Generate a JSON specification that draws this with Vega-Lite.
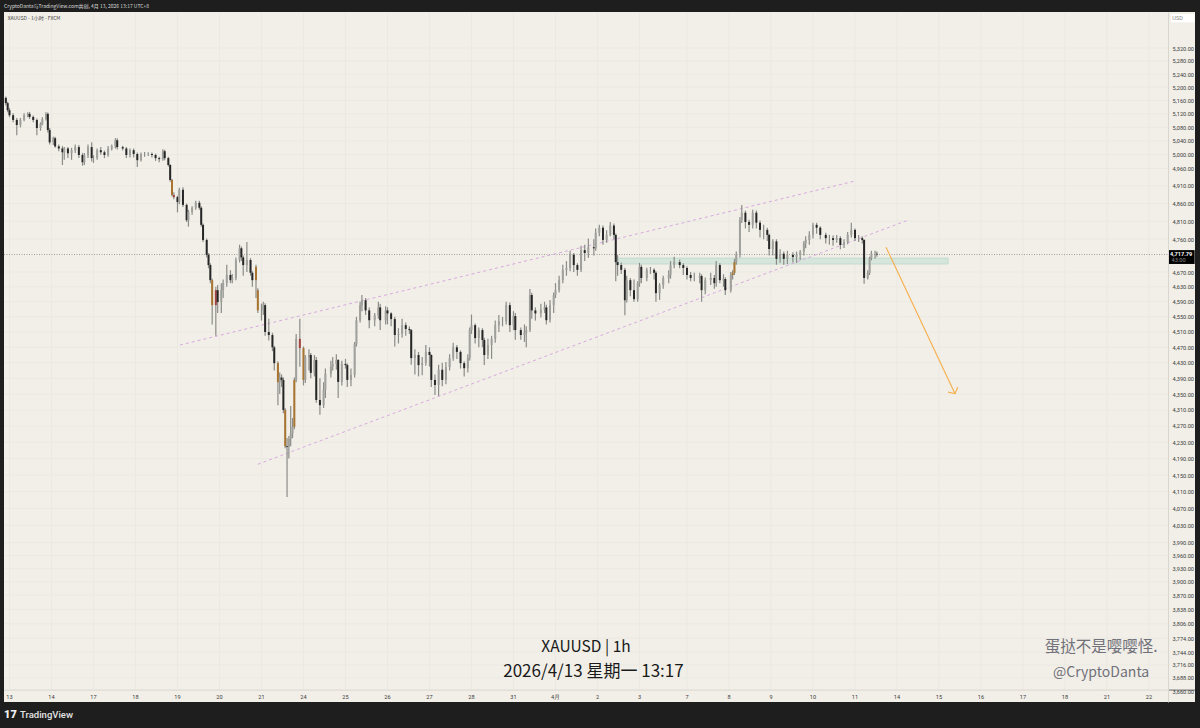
{
  "$schema": "https://vega.github.io/schema/vega-lite/v6.json",
  "width": 1191,
  "height": 690,
  "autosize": "none",
  "padding": {"left": 4, "top": 12, "right": 5, "bottom": 26},
  "background": "#1e1e1e",
  "view": {"fill": "#f1efe8", "stroke": null},
  "config": {
    "axisX": {"disable": true},
    "font": "Noto Sans CJK SC"
  },
  "datasets": {
    "days": [
      {"b":3,"day":"13"},{"b":26,"day":"14"},{"b":49,"day":"17"},{"b":72,"day":"18"},{"b":95,"day":"19"},{"b":118,"day":"20"},{"b":141,"day":"21"},{"b":164,"day":"24"},{"b":187,"day":"25"},{"b":210,"day":"26"},{"b":233,"day":"27"},{"b":256,"day":"28"},{"b":279,"day":"31"},{"b":302,"day":"4月"},{"b":325,"day":"2"},{"b":348,"day":"3"},{"b":374,"day":"7"},{"b":397,"day":"8"},{"b":420,"day":"9"},{"b":443,"day":"10"},{"b":466,"day":"11"},{"b":489,"day":"14"},{"b":512,"day":"15"},{"b":535,"day":"16"},{"b":558,"day":"17"},{"b":581,"day":"18"},{"b":604,"day":"21"},{"b":627,"day":"22"}
    ],
    "levels": [
      {"p":5320},{"p":5280},{"p":5240},{"p":5200},{"p":5160},{"p":5120},{"p":5080},{"p":5040},{"p":5000},{"p":4960},{"p":4910},{"p":4860},{"p":4810},{"p":4760},{"p":4670},{"p":4630},{"p":4590},{"p":4550},{"p":4510},{"p":4470},{"p":4430},{"p":4390},{"p":4350},{"p":4310},{"p":4270},{"p":4230},{"p":4190},{"p":4150},{"p":4110},{"p":4070},{"p":4030},{"p":3990},{"p":3960},{"p":3930},{"p":3900},{"p":3870},{"p":3838},{"p":3806},{"p":3774},{"p":3744},{"p":3716},{"p":3688}
    ],
    "candles": [
      {"b":1,"o":5168,"h":5172,"l":5145,"c":5152},
      {"b":2,"o":5152,"h":5156,"l":5125,"c":5131},
      {"b":3,"o":5131,"h":5138,"l":5110,"c":5116},
      {"b":5,"o":5116,"h":5122,"l":5095,"c":5102},
      {"b":7,"o":5102,"h":5108,"l":5057,"c":5087},
      {"b":9,"o":5087,"h":5108,"l":5080,"c":5102},
      {"b":11,"o":5102,"h":5122,"l":5098,"c":5116},
      {"b":13,"o":5116,"h":5125,"l":5110,"c":5120},
      {"b":14,"o":5120,"h":5126,"l":5105,"c":5111},
      {"b":16,"o":5111,"h":5115,"l":5095,"c":5102},
      {"b":18,"o":5102,"h":5106,"l":5057,"c":5078},
      {"b":20,"o":5078,"h":5095,"l":5070,"c":5090},
      {"b":21,"o":5090,"h":5110,"l":5086,"c":5105},
      {"b":23,"o":5105,"h":5125,"l":5100,"c":5120},
      {"b":24,"o":5120,"h":5124,"l":5065,"c":5072},
      {"b":25,"o":5072,"h":5078,"l":5030,"c":5036},
      {"b":27,"o":5036,"h":5052,"l":5028,"c":5048},
      {"b":28,"o":5048,"h":5052,"l":5020,"c":5024},
      {"b":30,"o":5024,"h":5030,"l":5010,"c":5018},
      {"b":32,"o":5018,"h":5025,"l":4970,"c":5007},
      {"b":33,"o":5007,"h":5022,"l":4985,"c":5018},
      {"b":35,"o":5018,"h":5022,"l":4990,"c":5004},
      {"b":37,"o":5004,"h":5020,"l":4985,"c":5013},
      {"b":39,"o":5013,"h":5030,"l":5005,"c":5022},
      {"b":41,"o":5022,"h":5028,"l":4990,"c":4999},
      {"b":43,"o":4999,"h":5005,"l":4968,"c":4978},
      {"b":44,"o":4978,"h":5005,"l":4970,"c":4999},
      {"b":46,"o":4999,"h":5030,"l":4990,"c":5022},
      {"b":48,"o":5022,"h":5036,"l":4980,"c":4990},
      {"b":49,"o":4990,"h":4998,"l":4976,"c":4990},
      {"b":51,"o":4990,"h":5018,"l":4985,"c":5013},
      {"b":53,"o":5013,"h":5022,"l":5000,"c":5007},
      {"b":55,"o":5007,"h":5012,"l":4990,"c":4999},
      {"b":57,"o":4999,"h":5025,"l":4994,"c":5018},
      {"b":59,"o":5018,"h":5030,"l":5012,"c":5024},
      {"b":61,"o":5024,"h":5048,"l":5018,"c":5042},
      {"b":62,"o":5042,"h":5048,"l":5015,"c":5022},
      {"b":65,"o":5022,"h":5026,"l":5012,"c":5018},
      {"b":67,"o":5018,"h":5022,"l":4990,"c":4999},
      {"b":69,"o":4999,"h":5018,"l":4992,"c":5013},
      {"b":71,"o":5013,"h":5018,"l":4992,"c":5002},
      {"b":73,"o":5002,"h":5006,"l":4964,"c":4984},
      {"b":75,"o":4984,"h":5006,"l":4980,"c":5002},
      {"b":77,"o":5002,"h":5008,"l":4994,"c":5002},
      {"b":79,"o":5002,"h":5007,"l":4996,"c":5002},
      {"b":81,"o":5002,"h":5006,"l":4992,"c":4999},
      {"b":83,"o":4999,"h":5003,"l":4982,"c":4990},
      {"b":85,"o":4990,"h":4994,"l":4978,"c":4987},
      {"b":87,"o":4987,"h":5016,"l":4982,"c":5010},
      {"b":88,"o":5010,"h":5014,"l":4984,"c":4990},
      {"b":90,"o":4990,"h":4994,"l":4966,"c":4970},
      {"b":91,"o":4970,"h":4972,"l":4922,"c":4927},
      {"b":92,"o":4927,"h":4930,"l":4880,"c":4884,"s":"o"},
      {"b":93,"o":4884,"h":4892,"l":4872,"c":4878,"s":"r"},
      {"b":95,"o":4878,"h":4882,"l":4835,"c":4864},
      {"b":96,"o":4864,"h":4905,"l":4858,"c":4899},
      {"b":98,"o":4899,"h":4906,"l":4850,"c":4856},
      {"b":100,"o":4856,"h":4860,"l":4808,"c":4813},
      {"b":101,"o":4813,"h":4842,"l":4795,"c":4836},
      {"b":103,"o":4836,"h":4852,"l":4828,"c":4848},
      {"b":105,"o":4848,"h":4868,"l":4842,"c":4862},
      {"b":107,"o":4862,"h":4868,"l":4842,"c":4848},
      {"b":108,"o":4848,"h":4852,"l":4795,"c":4800},
      {"b":109,"o":4800,"h":4804,"l":4752,"c":4758},
      {"b":111,"o":4758,"h":4762,"l":4710,"c":4717},
      {"b":112,"o":4717,"h":4722,"l":4680,"c":4689},
      {"b":113,"o":4689,"h":4694,"l":4640,"c":4648},
      {"b":114,"o":4648,"h":4652,"l":4530,"c":4581,"s":"o"},
      {"b":116,"o":4581,"h":4630,"l":4500,"c":4621,"s":"r"},
      {"b":117,"o":4621,"h":4635,"l":4560,"c":4589},
      {"b":119,"o":4589,"h":4640,"l":4560,"c":4621},
      {"b":120,"o":4621,"h":4650,"l":4600,"c":4640},
      {"b":122,"o":4640,"h":4690,"l":4630,"c":4662},
      {"b":124,"o":4662,"h":4675,"l":4640,"c":4648},
      {"b":125,"o":4648,"h":4665,"l":4640,"c":4654},
      {"b":127,"o":4654,"h":4710,"l":4648,"c":4703},
      {"b":129,"o":4703,"h":4745,"l":4696,"c":4735},
      {"b":130,"o":4735,"h":4740,"l":4700,"c":4710},
      {"b":131,"o":4710,"h":4715,"l":4660,"c":4689},
      {"b":133,"o":4689,"h":4752,"l":4670,"c":4703},
      {"b":135,"o":4703,"h":4708,"l":4660,"c":4668},
      {"b":136,"o":4668,"h":4672,"l":4630,"c":4648},
      {"b":138,"o":4648,"h":4690,"l":4600,"c":4684,"s":"o"},
      {"b":139,"o":4621,"h":4626,"l":4560,"c":4567,"s":"o"},
      {"b":141,"o":4567,"h":4585,"l":4540,"c":4567},
      {"b":142,"o":4567,"h":4590,"l":4555,"c":4581},
      {"b":143,"o":4581,"h":4586,"l":4500,"c":4510},
      {"b":145,"o":4510,"h":4545,"l":4488,"c":4502},
      {"b":147,"o":4502,"h":4508,"l":4460,"c":4470},
      {"b":148,"o":4470,"h":4474,"l":4410,"c":4429},
      {"b":150,"o":4429,"h":4434,"l":4322,"c":4380,"s":"o"},
      {"b":151,"o":4380,"h":4405,"l":4350,"c":4392},
      {"b":152,"o":4392,"h":4400,"l":4368,"c":4386},
      {"b":153,"o":4386,"h":4392,"l":4302,"c":4310},
      {"b":154,"o":4310,"h":4314,"l":4215,"c":4220,"s":"o"},
      {"b":155,"o":4220,"h":4240,"l":4097,"c":4218},
      {"b":156,"o":4218,"h":4245,"l":4190,"c":4238},
      {"b":157,"o":4238,"h":4320,"l":4220,"c":4252},
      {"b":158,"o":4252,"h":4290,"l":4240,"c":4268},
      {"b":159,"o":4268,"h":4392,"l":4262,"c":4386,"s":"o"},
      {"b":160,"o":4386,"h":4505,"l":4380,"c":4492},
      {"b":162,"o":4492,"h":4545,"l":4420,"c":4468,"s":"r"},
      {"b":164,"o":4468,"h":4472,"l":4372,"c":4386,"s":"o"},
      {"b":165,"o":4386,"h":4450,"l":4378,"c":4444},
      {"b":167,"o":4444,"h":4465,"l":4410,"c":4450},
      {"b":168,"o":4450,"h":4455,"l":4390,"c":4404},
      {"b":170,"o":4404,"h":4450,"l":4395,"c":4437},
      {"b":171,"o":4437,"h":4445,"l":4328,"c":4335},
      {"b":173,"o":4335,"h":4390,"l":4298,"c":4322},
      {"b":175,"o":4322,"h":4380,"l":4315,"c":4361},
      {"b":176,"o":4361,"h":4415,"l":4340,"c":4402},
      {"b":179,"o":4402,"h":4435,"l":4392,"c":4420},
      {"b":180,"o":4420,"h":4445,"l":4410,"c":4427},
      {"b":182,"o":4427,"h":4452,"l":4412,"c":4437},
      {"b":183,"o":4437,"h":4440,"l":4340,"c":4381},
      {"b":185,"o":4381,"h":4435,"l":4372,"c":4427},
      {"b":187,"o":4427,"h":4440,"l":4415,"c":4424},
      {"b":188,"o":4424,"h":4428,"l":4368,"c":4386},
      {"b":190,"o":4386,"h":4415,"l":4370,"c":4399},
      {"b":192,"o":4399,"h":4484,"l":4392,"c":4479},
      {"b":193,"o":4479,"h":4550,"l":4472,"c":4541},
      {"b":195,"o":4541,"h":4590,"l":4535,"c":4581},
      {"b":196,"o":4581,"h":4608,"l":4565,"c":4594},
      {"b":198,"o":4594,"h":4600,"l":4555,"c":4567},
      {"b":200,"o":4567,"h":4575,"l":4520,"c":4541},
      {"b":203,"o":4541,"h":4560,"l":4525,"c":4554},
      {"b":205,"o":4554,"h":4590,"l":4545,"c":4575},
      {"b":206,"o":4575,"h":4585,"l":4515,"c":4541},
      {"b":209,"o":4541,"h":4578,"l":4530,"c":4567},
      {"b":210,"o":4567,"h":4575,"l":4530,"c":4559},
      {"b":212,"o":4559,"h":4562,"l":4525,"c":4544},
      {"b":214,"o":4544,"h":4550,"l":4472,"c":4502},
      {"b":216,"o":4502,"h":4520,"l":4480,"c":4505},
      {"b":218,"o":4505,"h":4545,"l":4495,"c":4528},
      {"b":220,"o":4528,"h":4535,"l":4500,"c":4518},
      {"b":222,"o":4518,"h":4525,"l":4505,"c":4515},
      {"b":223,"o":4515,"h":4518,"l":4425,"c":4442},
      {"b":225,"o":4442,"h":4465,"l":4400,"c":4450},
      {"b":227,"o":4450,"h":4458,"l":4395,"c":4424},
      {"b":229,"o":4424,"h":4445,"l":4398,"c":4429},
      {"b":231,"o":4429,"h":4476,"l":4422,"c":4458},
      {"b":233,"o":4458,"h":4470,"l":4420,"c":4450},
      {"b":234,"o":4450,"h":4452,"l":4368,"c":4386},
      {"b":236,"o":4386,"h":4400,"l":4348,"c":4373},
      {"b":238,"o":4373,"h":4425,"l":4345,"c":4412},
      {"b":240,"o":4412,"h":4430,"l":4370,"c":4386},
      {"b":242,"o":4386,"h":4432,"l":4375,"c":4419},
      {"b":244,"o":4419,"h":4452,"l":4410,"c":4442},
      {"b":246,"o":4442,"h":4482,"l":4435,"c":4470},
      {"b":248,"o":4470,"h":4476,"l":4440,"c":4458},
      {"b":250,"o":4458,"h":4462,"l":4415,"c":4429},
      {"b":252,"o":4429,"h":4434,"l":4395,"c":4416},
      {"b":254,"o":4416,"h":4452,"l":4405,"c":4442},
      {"b":255,"o":4442,"h":4522,"l":4436,"c":4515},
      {"b":256,"o":4515,"h":4556,"l":4505,"c":4528},
      {"b":258,"o":4528,"h":4532,"l":4480,"c":4494},
      {"b":260,"o":4494,"h":4522,"l":4470,"c":4515},
      {"b":262,"o":4515,"h":4520,"l":4470,"c":4489},
      {"b":263,"o":4489,"h":4495,"l":4424,"c":4450},
      {"b":265,"o":4450,"h":4492,"l":4440,"c":4476},
      {"b":267,"o":4476,"h":4500,"l":4440,"c":4492},
      {"b":269,"o":4492,"h":4540,"l":4482,"c":4528},
      {"b":271,"o":4528,"h":4555,"l":4510,"c":4538},
      {"b":273,"o":4538,"h":4550,"l":4525,"c":4538},
      {"b":275,"o":4538,"h":4590,"l":4530,"c":4581},
      {"b":277,"o":4581,"h":4588,"l":4510,"c":4528},
      {"b":279,"o":4528,"h":4565,"l":4515,"c":4552},
      {"b":280,"o":4552,"h":4560,"l":4490,"c":4515},
      {"b":283,"o":4515,"h":4522,"l":4490,"c":4502},
      {"b":285,"o":4502,"h":4530,"l":4484,"c":4508},
      {"b":286,"o":4508,"h":4525,"l":4470,"c":4515},
      {"b":288,"o":4515,"h":4624,"l":4510,"c":4608},
      {"b":289,"o":4608,"h":4614,"l":4545,"c":4567},
      {"b":291,"o":4567,"h":4575,"l":4540,"c":4559},
      {"b":294,"o":4559,"h":4585,"l":4548,"c":4570},
      {"b":296,"o":4570,"h":4590,"l":4560,"c":4575},
      {"b":297,"o":4575,"h":4582,"l":4530,"c":4541},
      {"b":299,"o":4541,"h":4595,"l":4535,"c":4581},
      {"b":301,"o":4581,"h":4615,"l":4560,"c":4608},
      {"b":302,"o":4608,"h":4640,"l":4600,"c":4621},
      {"b":304,"o":4621,"h":4660,"l":4615,"c":4648},
      {"b":306,"o":4648,"h":4690,"l":4640,"c":4676},
      {"b":308,"o":4676,"h":4700,"l":4660,"c":4681},
      {"b":310,"o":4681,"h":4728,"l":4672,"c":4717},
      {"b":312,"o":4717,"h":4722,"l":4670,"c":4689},
      {"b":314,"o":4689,"h":4694,"l":4660,"c":4676},
      {"b":316,"o":4676,"h":4742,"l":4670,"c":4730},
      {"b":318,"o":4730,"h":4745,"l":4700,"c":4722},
      {"b":320,"o":4722,"h":4762,"l":4708,"c":4738},
      {"b":323,"o":4738,"h":4760,"l":4715,"c":4735},
      {"b":324,"o":4735,"h":4790,"l":4728,"c":4778},
      {"b":326,"o":4778,"h":4800,"l":4768,"c":4792},
      {"b":328,"o":4792,"h":4798,"l":4745,"c":4758},
      {"b":330,"o":4758,"h":4785,"l":4750,"c":4772},
      {"b":332,"o":4772,"h":4808,"l":4768,"c":4798},
      {"b":334,"o":4798,"h":4804,"l":4760,"c":4772},
      {"b":335,"o":4772,"h":4776,"l":4645,"c":4697},
      {"b":336,"o":4697,"h":4716,"l":4660,"c":4689},
      {"b":338,"o":4689,"h":4696,"l":4665,"c":4676},
      {"b":340,"o":4676,"h":4682,"l":4554,"c":4594},
      {"b":341,"o":4594,"h":4660,"l":4588,"c":4648},
      {"b":343,"o":4648,"h":4654,"l":4605,"c":4621},
      {"b":345,"o":4621,"h":4650,"l":4590,"c":4597},
      {"b":347,"o":4597,"h":4645,"l":4590,"c":4640},
      {"b":348,"o":4640,"h":4695,"l":4630,"c":4684},
      {"b":349,"o":4684,"h":4690,"l":4640,"c":4654},
      {"b":352,"o":4654,"h":4682,"l":4645,"c":4676},
      {"b":354,"o":4676,"h":4684,"l":4665,"c":4676},
      {"b":356,"o":4676,"h":4680,"l":4650,"c":4668},
      {"b":357,"o":4668,"h":4672,"l":4590,"c":4613},
      {"b":359,"o":4613,"h":4640,"l":4595,"c":4635},
      {"b":361,"o":4635,"h":4660,"l":4625,"c":4654},
      {"b":364,"o":4654,"h":4675,"l":4640,"c":4662},
      {"b":365,"o":4662,"h":4700,"l":4652,"c":4689},
      {"b":367,"o":4689,"h":4712,"l":4680,"c":4697},
      {"b":370,"o":4697,"h":4704,"l":4680,"c":4689},
      {"b":372,"o":4689,"h":4694,"l":4662,"c":4681},
      {"b":374,"o":4681,"h":4686,"l":4650,"c":4662},
      {"b":376,"o":4662,"h":4670,"l":4645,"c":4654},
      {"b":378,"o":4654,"h":4668,"l":4645,"c":4654},
      {"b":381,"o":4654,"h":4668,"l":4640,"c":4659},
      {"b":382,"o":4659,"h":4664,"l":4590,"c":4621},
      {"b":384,"o":4621,"h":4655,"l":4610,"c":4648},
      {"b":387,"o":4648,"h":4668,"l":4635,"c":4654},
      {"b":389,"o":4654,"h":4662,"l":4625,"c":4640},
      {"b":390,"o":4640,"h":4700,"l":4630,"c":4689},
      {"b":392,"o":4689,"h":4694,"l":4640,"c":4648},
      {"b":394,"o":4648,"h":4664,"l":4630,"c":4651},
      {"b":395,"o":4651,"h":4656,"l":4608,"c":4621},
      {"b":398,"o":4621,"h":4670,"l":4615,"c":4662},
      {"b":399,"o":4662,"h":4675,"l":4650,"c":4668,"s":"o"},
      {"b":400,"o":4668,"h":4706,"l":4662,"c":4697,"s":"o"},
      {"b":401,"o":4697,"h":4726,"l":4690,"c":4717},
      {"b":403,"o":4717,"h":4822,"l":4710,"c":4813},
      {"b":404,"o":4813,"h":4856,"l":4805,"c":4834},
      {"b":406,"o":4834,"h":4840,"l":4790,"c":4808},
      {"b":408,"o":4808,"h":4814,"l":4780,"c":4800},
      {"b":410,"o":4800,"h":4842,"l":4790,"c":4834},
      {"b":412,"o":4834,"h":4840,"l":4790,"c":4806},
      {"b":414,"o":4806,"h":4812,"l":4765,"c":4786},
      {"b":416,"o":4786,"h":4800,"l":4760,"c":4786},
      {"b":418,"o":4786,"h":4792,"l":4755,"c":4772},
      {"b":419,"o":4772,"h":4775,"l":4715,"c":4733},
      {"b":421,"o":4733,"h":4760,"l":4715,"c":4754},
      {"b":423,"o":4754,"h":4760,"l":4690,"c":4706},
      {"b":425,"o":4706,"h":4732,"l":4695,"c":4720},
      {"b":427,"o":4720,"h":4726,"l":4690,"c":4706},
      {"b":429,"o":4706,"h":4728,"l":4692,"c":4717},
      {"b":432,"o":4717,"h":4724,"l":4696,"c":4711},
      {"b":434,"o":4711,"h":4726,"l":4695,"c":4717},
      {"b":436,"o":4717,"h":4730,"l":4702,"c":4725},
      {"b":438,"o":4725,"h":4755,"l":4715,"c":4749},
      {"b":439,"o":4749,"h":4768,"l":4735,"c":4758},
      {"b":441,"o":4758,"h":4782,"l":4745,"c":4772},
      {"b":443,"o":4772,"h":4806,"l":4762,"c":4800},
      {"b":445,"o":4800,"h":4806,"l":4775,"c":4792},
      {"b":447,"o":4792,"h":4796,"l":4760,"c":4772},
      {"b":450,"o":4772,"h":4778,"l":4748,"c":4763},
      {"b":452,"o":4763,"h":4772,"l":4745,"c":4763},
      {"b":454,"o":4763,"h":4770,"l":4742,"c":4758},
      {"b":456,"o":4758,"h":4772,"l":4750,"c":4763},
      {"b":458,"o":4763,"h":4768,"l":4732,"c":4744},
      {"b":460,"o":4744,"h":4760,"l":4736,"c":4752},
      {"b":462,"o":4752,"h":4780,"l":4746,"c":4772},
      {"b":464,"o":4772,"h":4806,"l":4765,"c":4786},
      {"b":466,"o":4786,"h":4790,"l":4755,"c":4763},
      {"b":468,"o":4763,"h":4772,"l":4752,"c":4763},
      {"b":470,"o":4763,"h":4768,"l":4748,"c":4758},
      {"b":471,"o":4758,"h":4760,"l":4638,"c":4654},
      {"b":473,"o":4654,"h":4675,"l":4650,"c":4668},
      {"b":474,"o":4668,"h":4712,"l":4662,"c":4708},
      {"b":475,"o":4708,"h":4728,"l":4702,"c":4720},
      {"b":477,"o":4720,"h":4728,"l":4706,"c":4720},
      {"b":478,"o":4720,"h":4726,"l":4712,"c":4718}
    ]
  },
  "layer": [
    {
      "data": {"name": "days"},
      "mark": {"type": "rule", "color": "#ebe9e2", "strokeWidth": 1},
      "encoding": {
        "x": {"field": "b", "type": "quantitative", "scale": {"domain": [0, 652.2], "nice": false, "zero": false, "padding": 0}}
      }
    },
    {
      "data": {"name": "levels"},
      "mark": {"type": "rule", "color": "#ebe9e2", "strokeWidth": 1},
      "encoding": {
        "x": {"datum": 0, "type": "quantitative"},
        "x2": {"datum": 637.5},
        "y": {
          "field": "p",
          "type": "quantitative",
          "scale": {"type": "log", "domain": [3636.7, 5432.6], "nice": false},
          "axis": {
            "orient": "right",
            "offset": -27,
            "title": null,
            "values": [5320,5280,5240,5200,5160,5120,5080,5040,5000,4960,4910,4860,4810,4760,4670,4630,4590,4550,4510,4470,4430,4390,4350,4310,4270,4230,4190,4150,4110,4070,4030,3990,3960,3930,3900,3870,3838,3806,3774,3744,3716,3688,3660],
            "format": ",.2f",
            "ticks": false,
            "grid": false,
            "domainColor": "#d8d6ce",
            "labelFont": "Roboto",
            "labelFontSize": 5.6,
            "labelColor": "#3c3c3c",
            "labelPadding": 4,
            "labelOverlap": false,
            "zindex": 1
          }
        }
      }
    },
    {
      "data": {"values": [
        {"x0": 637.5, "x1": 652.2, "p0": 3636.7, "p1": 5432.6},
        {"x0": 0, "x1": 652.2, "p0": 3636.7, "p1": 3662}
      ]},
      "mark": {"type": "rect", "fill": "#f1efe8"},
      "encoding": {
        "x": {"field": "x0", "type": "quantitative"},
        "x2": {"field": "x1"},
        "y": {"field": "p0", "type": "quantitative"},
        "y2": {"field": "p1"}
      }
    },
    {
      "data": {"values": [{"x0": 0, "x1": 637.5, "p": 3662}]},
      "mark": {"type": "rule", "color": "#d8d6ce", "strokeWidth": 1},
      "encoding": {
        "x": {"field": "x0", "type": "quantitative"},
        "x2": {"field": "x1"},
        "y": {"field": "p", "type": "quantitative"}
      }
    },
    {
      "data": {"values": [{"x0": 637.5, "x1": 652.2, "p": 3662}]},
      "mark": {"type": "rule", "color": "#6b6b6b", "strokeWidth": 1},
      "encoding": {
        "x": {"field": "x0", "type": "quantitative"},
        "x2": {"field": "x1"},
        "y": {"field": "p", "type": "quantitative"}
      }
    },
    {
      "data": {"name": "days"},
      "mark": {"type": "text", "font": "Roboto", "fontSize": 5.6, "color": "#3c3c3c"},
      "encoding": {
        "x": {"field": "b", "type": "quantitative"},
        "y": {"datum": 3647, "type": "quantitative"},
        "text": {"field": "day"}
      }
    },
    {
      "data": {"values": [{"x0": 335, "x1": 517, "p0": 4692, "p1": 4708}]},
      "mark": {"type": "rect", "fill": "#d6e6dd", "stroke": "#c3dbce", "strokeWidth": 1},
      "encoding": {
        "x": {"field": "x0", "type": "quantitative"},
        "x2": {"field": "x1"},
        "y": {"field": "p0", "type": "quantitative"},
        "y2": {"field": "p1"}
      }
    },
    {
      "data": {"values": [{"x0": 0, "x1": 637.5, "p": 4717.79}]},
      "mark": {"type": "rule", "color": "#8f8c86", "strokeWidth": 0.8, "strokeDash": [1, 1.5]},
      "encoding": {
        "x": {"field": "x0", "type": "quantitative"},
        "x2": {"field": "x1"},
        "y": {"field": "p", "type": "quantitative"}
      }
    },
    {
      "data": {"values": [
        {"line": "upper", "b": 96.4, "p": 4476},
        {"line": "upper", "b": 466, "p": 4924},
        {"line": "lower", "b": 139, "p": 4176},
        {"line": "lower", "b": 495, "p": 4813}
      ]},
      "mark": {"type": "line", "color": "#d9a9e0", "strokeWidth": 1, "strokeDash": [3, 3]},
      "encoding": {
        "x": {"field": "b", "type": "quantitative"},
        "y": {"field": "p", "type": "quantitative"},
        "detail": {"field": "line"}
      }
    },
    {
      "data": {"values": [
        {"seg": "shaft", "n": 1, "b": 483, "p": 4738},
        {"seg": "shaft", "n": 2, "b": 520.8, "p": 4351},
        {"seg": "head", "n": 1, "b": 517, "p": 4355},
        {"seg": "head", "n": 2, "b": 520.8, "p": 4351},
        {"seg": "head", "n": 3, "b": 522.3, "p": 4368}
      ]},
      "mark": {"type": "line", "color": "#f7ae4a", "strokeWidth": 1.1},
      "encoding": {
        "x": {"field": "b", "type": "quantitative"},
        "y": {"field": "p", "type": "quantitative"},
        "detail": {"field": "seg"},
        "order": {"field": "n"}
      }
    },
    {
      "data": {"name": "candles"},
      "mark": {"type": "rule", "strokeWidth": 1.2},
      "encoding": {
        "x": {"field": "b", "type": "quantitative"},
        "y": {"field": "l", "type": "quantitative"},
        "y2": {"field": "h"},
        "color": {"value": "#8b8b88"}
      }
    },
    {
      "data": {"name": "candles"},
      "mark": {"type": "bar", "width": 2},
      "encoding": {
        "x": {"field": "b", "type": "quantitative"},
        "y": {"field": "o", "type": "quantitative"},
        "y2": {"field": "c"},
        "color": {
          "condition": [
            {"test": "datum.s === 'o'", "value": "#a8742f"},
            {"test": "datum.s === 'r'", "value": "#a2433f"},
            {"test": "datum.c >= datum.o", "value": "#a0a09c"}
          ],
          "value": "#262626"
        }
      }
    },
    {
      "data": {"values": [{"x0": 637.5, "x1": 652, "p0": 4692, "p1": 4730}]},
      "mark": {"type": "rect", "fill": "#000000"},
      "encoding": {
        "x": {"field": "x0", "type": "quantitative"},
        "x2": {"field": "x1"},
        "y": {"field": "p0", "type": "quantitative"},
        "y2": {"field": "p1"}
      }
    },
    {
      "data": {"values": [{"x0": 639, "x1": 652, "p0": 5400, "p1": 5426}]},
      "mark": {"type": "rect", "fill": "#ffffff"},
      "encoding": {
        "x": {"field": "x0", "type": "quantitative"},
        "x2": {"field": "x1"},
        "y": {"field": "p0", "type": "quantitative"},
        "y2": {"field": "p1"}
      }
    },
    {
      "data": {"values": [{"b": 644.6, "p": 4718, "t": "4,717.79"}]},
      "mark": {"type": "text", "font": "Roboto", "fontSize": 5.6, "fontWeight": 700, "color": "#ffffff"},
      "encoding": {"x": {"field": "b", "type": "quantitative"}, "y": {"field": "p", "type": "quantitative"}, "text": {"field": "t"}}
    },
    {
      "data": {"values": [{"b": 643.2, "p": 4702, "t": "43:00"}, {"b": 642.7, "p": 5413, "t": "USD"}]},
      "mark": {"type": "text", "font": "Roboto", "fontSize": 5.6, "color": "#8a8a8a"},
      "encoding": {"x": {"field": "b", "type": "quantitative"}, "y": {"field": "p", "type": "quantitative"}, "text": {"field": "t"}}
    },
    {
      "data": {"values": [{"b": 2, "p": 5414, "t": "XAUUSD - 1小时 - FXCM"}]},
      "mark": {"type": "text", "align": "left", "fontSize": 5, "color": "#3c3c3c"},
      "encoding": {"x": {"field": "b", "type": "quantitative"}, "y": {"field": "p", "type": "quantitative"}, "text": {"field": "t"}}
    },
    {
      "data": {"values": [{"b": 0, "p": 5451.6, "t": "CryptoDanta与TradingView.com共创, 4月 13, 2026 13:17 UTC+8"}]},
      "mark": {"type": "text", "align": "left", "fontSize": 5, "color": "#dcdcdc"},
      "encoding": {"x": {"field": "b", "type": "quantitative"}, "y": {"field": "p", "type": "quantitative"}, "text": {"field": "t"}}
    },
    {
      "data": {"values": [{"b": 0, "p": 3609, "t": "17"}]},
      "mark": {"type": "text", "align": "left", "font": "Roboto", "fontWeight": 900, "fontSize": 11, "color": "#f2f2f2"},
      "encoding": {"x": {"field": "b", "type": "quantitative"}, "y": {"field": "p", "type": "quantitative"}, "text": {"field": "t"}}
    },
    {
      "data": {"values": [{"b": 8.8, "p": 3609, "t": "TradingView"}]},
      "mark": {"type": "text", "align": "left", "font": "Roboto", "fontWeight": 500, "fontSize": 9.5, "color": "#e4e4e4"},
      "encoding": {"x": {"field": "b", "type": "quantitative"}, "y": {"field": "p", "type": "quantitative"}, "text": {"field": "t"}}
    },
    {
      "data": {"values": [{"b": 318.7, "p": 3754, "t": "XAUUSD | 1h"}]},
      "mark": {"type": "text", "fontSize": 15.5, "color": "#1a1a1a"},
      "encoding": {"x": {"field": "b", "type": "quantitative"}, "y": {"field": "p", "type": "quantitative"}, "text": {"field": "t"}}
    },
    {
      "data": {"values": [{"b": 322.8, "p": 3701, "t": "2026/4/13 星期一 13:17"}]},
      "mark": {"type": "text", "fontSize": 17, "color": "#1a1a1a"},
      "encoding": {"x": {"field": "b", "type": "quantitative"}, "y": {"field": "p", "type": "quantitative"}, "text": {"field": "t"}}
    },
    {
      "data": {"values": [{"b": 600.8, "p": 3754, "t": "蛋挞不是嘤嘤怪."}]},
      "mark": {"type": "text", "fontSize": 15.5, "color": "#71717a"},
      "encoding": {"x": {"field": "b", "type": "quantitative"}, "y": {"field": "p", "type": "quantitative"}, "text": {"field": "t"}}
    },
    {
      "data": {"values": [{"b": 600.8, "p": 3699, "t": "@CryptoDanta"}]},
      "mark": {"type": "text", "fontSize": 14, "color": "#71717a"},
      "encoding": {"x": {"field": "b", "type": "quantitative"}, "y": {"field": "p", "type": "quantitative"}, "text": {"field": "t"}}
    }
  ]
}
